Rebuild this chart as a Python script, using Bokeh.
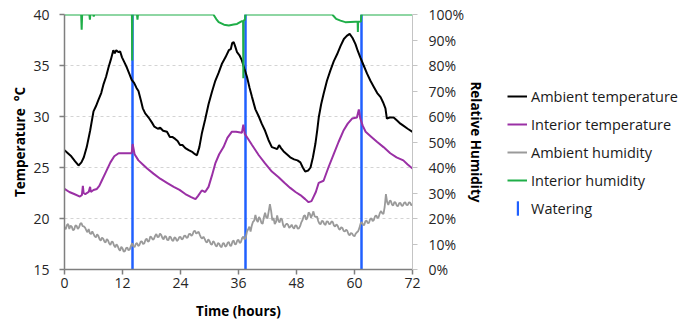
from bokeh.plotting import figure
from bokeh.models import (Range1d, LinearAxis, FixedTicker, PrintfTickFormatter,
                          Legend, LegendItem)
from bokeh.layouts import row
from bokeh.embed import file_html
from bokeh.resources import INLINE

# ---------------- data ----------------
x_ticks = [0, 12, 24, 36, 48, 60, 72]
temp_ticks = [15, 20, 25, 30, 35, 40]
hum_ticks = [0, 10, 20, 30, 40, 50, 60, 70, 80, 90, 100]

amb_temp_h = [0.0, 0.7, 1.4, 2.2, 2.9, 3.5, 4.0, 4.6, 5.3, 6.0, 6.5, 7.0, 7.6, 8.1, 8.6, 9.1,
              9.6, 10.1, 10.4, 10.7, 11.2, 11.5, 11.9, 12.4, 12.9, 13.4, 13.9, 14.4, 14.9,
              15.3, 15.8, 16.2, 16.7, 17.4, 18.1, 18.6, 19.3, 19.8, 20.4, 21.2, 21.8, 22.3,
              22.9, 23.4, 23.9, 24.4, 25.0, 25.7, 26.5, 27.0, 27.4, 27.9, 28.4, 29.1, 29.8,
              30.5, 31.2, 31.9, 32.6, 33.3, 34.0, 34.4, 34.7, 35.0, 35.3, 35.7, 36.2, 36.7,
              37.2, 37.75, 38.3, 38.8, 39.5, 40.2, 40.8, 41.5, 42.2, 42.9, 43.5, 44.0, 44.4,
              44.8, 45.3, 46.0, 46.7, 47.5, 48.2, 48.8, 49.3, 49.8, 50.4, 50.9, 51.4, 51.9,
              52.3, 52.6, 53.1, 53.6, 54.3, 55.0, 55.7, 56.4, 57.1, 57.8, 58.4, 59.0, 59.6,
              60.2, 60.7, 61.2, 61.9, 62.6, 63.3, 64.0, 64.7, 65.4, 65.9, 66.4, 66.7, 67.3,
              68.1, 68.8, 69.5, 70.1, 71.0, 72.0]
amb_temp = [26.7, 26.4, 26.1, 25.6, 25.2, 25.5, 26.0, 27.0, 28.6, 30.5, 31.0, 31.6, 32.3, 33.2,
            33.9, 34.8, 35.6, 36.5, 36.2, 36.5, 36.3, 36.4, 35.8, 35.3, 34.8, 34.2, 33.6, 33.3,
            32.8, 32.5, 31.6, 30.8, 30.3, 29.9, 29.4, 29.0, 28.8, 28.9, 28.6, 28.5, 28.0, 28.0,
            27.8, 27.6, 27.2, 27.2, 26.9, 26.7, 26.5, 26.3, 26.2, 27.0, 28.3, 29.7, 31.2, 32.4,
            33.5, 34.3, 35.2, 35.8, 36.5, 36.6, 37.2, 37.3, 36.9, 36.3, 36.0, 35.5, 34.7, 33.9,
            32.8, 31.9, 30.7, 30.0, 29.3, 28.6, 27.7, 27.0, 26.9, 26.8, 27.2, 26.9, 26.6, 26.3,
            26.0, 25.8, 25.7, 25.5, 25.0, 24.6, 24.7, 25.0, 26.0, 27.3, 28.7, 29.9, 31.2, 32.2,
            33.5, 34.5, 35.4, 36.1, 36.9, 37.6, 37.9, 38.1, 37.7, 37.1, 36.4, 35.8, 35.0, 34.2,
            33.5, 32.9, 32.3, 31.9, 31.4, 30.8, 29.8, 29.9, 29.9, 29.6, 29.3, 29.1, 28.8, 28.5]

int_temp_h = [0.0, 1.0, 2.0, 3.2, 3.6, 3.8, 3.95, 4.3, 5.0, 5.3, 5.45, 6.0, 6.7, 7.2, 7.7, 8.6,
              9.5, 10.3, 11.2, 12.5, 13.9, 14.1, 14.5, 15.3, 16.2, 17.1, 18.4, 19.8, 21.2, 22.6,
              23.8, 25.0, 26.2, 27.1, 27.6, 28.4, 29.1, 29.8, 30.5, 31.2, 32.0, 32.9, 33.7,
              34.6, 35.5, 36.7, 37.0, 37.3, 38.0, 38.8, 40.2, 41.5, 42.9, 44.3, 45.5, 46.7,
              47.8, 48.8, 49.8, 50.5, 51.1, 51.5, 52.0, 52.6, 53.6, 54.6, 55.7, 56.7, 57.7,
              58.6, 59.5, 60.5, 60.9, 61.2, 61.7, 62.3, 63.5, 64.7, 66.0, 67.4, 68.7, 70.1,
              71.0, 72.0]
int_temp = [22.9, 22.6, 22.4, 22.15, 22.3, 23.2, 22.5, 22.4, 22.6, 23.1, 22.6, 22.8, 22.9,
            23.2, 23.7, 24.6, 25.5, 26.1, 26.4, 26.4, 26.4, 27.3, 26.3, 25.7, 25.3, 24.9, 24.4,
            23.9, 23.5, 23.1, 22.8, 22.4, 22.1, 21.9, 22.2, 22.75, 22.6, 23.1, 24.2, 25.4,
            26.3, 27.0, 27.9, 28.5, 28.5, 28.4, 29.2, 28.3, 27.8, 27.2, 26.2, 25.4, 24.6, 24.05,
            23.5, 23.0, 22.6, 22.3, 21.9, 21.6, 21.7, 22.1, 22.6, 23.5, 23.7, 25.0, 26.3, 27.5,
            28.6, 29.3, 29.8, 29.9, 30.7, 29.8, 29.1, 28.5, 28.0, 27.5, 27.0, 26.4, 26.0, 25.7,
            25.3, 24.9]

# ambient humidity, readings on the half hour ...
amb_hum_h = [0.0, 0.5, 1.0, 1.5, 2.0, 2.5, 3.0, 3.5, 4.0, 4.5, 5.0, 5.5, 6.0, 6.5, 7.0, 7.5,
             8.0, 8.5, 9.0, 9.5, 10.0, 10.5, 11.0, 11.5, 12.0, 12.5, 13.0, 13.5, 14.0, 14.5,
             15.0, 15.5, 16.0, 16.5, 17.0, 17.5, 18.0, 18.5, 19.0, 19.5, 20.0, 20.5, 21.0,
             21.5, 22.0, 22.5, 23.0, 23.5, 24.0, 24.5, 25.0, 25.5, 26.0, 26.5, 27.0, 27.5,
             28.0, 28.5, 29.0, 29.5, 30.0, 30.5, 31.0, 31.5, 32.0, 32.5, 33.0, 33.5, 34.0,
             34.5, 35.0, 35.5, 36.0, 36.5, 37.0, 37.5, 38.0, 38.5, 39.0, 39.5, 40.0, 40.5,
             41.0, 41.5, 42.0, 42.5, 43.0, 43.5, 44.0, 44.5, 45.0, 45.5, 46.0, 46.5, 47.0,
             47.5, 48.0, 48.5, 49.0, 49.5, 50.0, 50.5, 51.0, 51.5, 52.0, 52.5, 53.0, 53.5,
             54.0, 54.5, 55.0, 55.5, 56.0, 56.5, 57.0, 57.5, 58.0, 58.5, 59.0, 59.5, 60.0,
             60.5, 61.0, 61.5, 62.0, 62.5, 63.0, 63.5, 64.0, 64.5, 65.0, 65.5, 66.0, 66.5,
             67.0, 67.5, 68.0, 68.5, 69.0, 69.5, 70.0, 70.5, 71.0, 71.5, 72.0]
amb_hum = [16.6, 17.4, 15.9, 16.8, 15.7, 17.1, 16.5, 18.2, 16.9, 15.4, 15.9, 13.9, 14.0, 12.6,
           13.2, 11.3, 12.1, 10.6, 11.4, 9.6, 10.8, 8.7, 9.2, 7.4, 8.3, 7.2, 8.6, 7.9, 10.3,
           8.8, 10.4, 9.6, 11.0, 10.2, 12.1, 11.2, 12.6, 12.0, 13.9, 12.8, 13.6, 11.8, 12.9,
           11.5, 12.6, 11.2, 12.3, 11.6, 12.8, 12.1, 13.3, 12.6, 14.0, 13.7, 15.2, 14.4, 13.6,
           12.1, 12.0, 10.6, 11.2, 9.7, 10.6, 9.0, 10.1, 8.7, 10.3, 9.2, 10.8, 9.3, 11.4, 10.0,
           11.6, 10.8, 12.9, 12.4, 15.8, 14.9, 18.7, 21.4, 18.6, 19.8, 17.9, 22.3, 20.1, 25.6,
           19.3, 17.8, 21.2, 18.4, 19.6, 16.5, 18.0, 16.3, 17.6, 16.0, 17.2, 16.1, 18.5, 21.0,
           19.5, 22.4, 20.3, 22.8, 20.6, 19.0, 17.8, 18.9, 17.5, 18.8, 17.9, 18.6, 16.8, 17.2,
           15.6, 16.3, 14.9, 15.2, 13.4, 14.1, 13.0, 14.6, 16.2, 18.6, 17.4, 19.2, 18.3, 20.1,
           19.4, 21.2, 20.6, 22.9, 21.8, 29.6, 25.3, 27.0, 25.1, 26.3, 24.8, 26.1, 25.0, 26.4,
           25.2, 26.2, 25.6]
# ... and the jitter read between them, at the quarter hours
amb_hum_q = [15.8, 17.9, 17.2, 15.4, 17.3, 15.9, 17.9, 17.0, 16.4, 14.6, 14.2, 14.9, 13.0, 13.8,
             11.9, 12.5, 11.0, 11.9, 10.2, 10.9, 9.4, 9.9, 8.0, 8.9, 7.0, 8.4, 7.5, 9.3, 9.1,
             10.0, 9.2, 10.9, 10.0, 11.6, 10.9, 12.9, 11.7, 13.2, 12.7, 14.1, 12.4, 13.1, 11.6,
             12.9, 11.5, 12.6, 11.2, 12.7, 11.8, 13.2, 12.4, 13.9, 13.2, 15.0, 14.1, 14.8, 12.5,
             12.9, 10.9, 11.8, 10.0, 11.1, 9.4, 10.4, 9.1, 10.2, 9.0, 10.5, 9.4, 10.9, 9.9, 11.4,
             10.4, 12.3, 11.8, 14.9, 16.8, 17.2, 19.2, 19.4, 20.6, 18.2, 20.5, 20.4, 22.8, 23.0,
             20.2, 18.6, 19.1, 20.1, 17.3, 17.6, 17.5, 16.8, 16.5, 17.3, 16.0, 17.0, 19.4, 21.3,
             20.2, 21.9, 21.4, 20.9, 20.8, 18.0, 19.1, 17.8, 18.9, 17.8, 18.9, 17.2, 17.7, 16.0,
             16.6, 15.1, 15.6, 13.9, 14.3, 13.3, 14.1, 15.0, 17.9, 17.6, 18.9, 18.2, 19.8, 19.0,
             20.9, 20.2, 22.2, 22.0, 24.6, 26.4, 26.8, 25.5, 26.4, 25.0, 26.0, 25.1, 26.1, 25.3,
             26.3, 25.2]

int_hum_h = [0.0, 3.45, 3.55, 3.65, 5.15, 5.25, 5.35, 5.95, 6.05, 6.15, 13.95, 14.0, 14.05,
             15.0, 15.1, 15.2, 30.8, 31.4, 31.9, 33.0, 34.0, 35.0, 35.7, 36.7, 36.95, 37.0,
             37.05, 37.35, 37.4, 55.4, 56.2, 57.1, 58.1, 60.2, 60.65, 60.7, 60.75, 61.35, 61.4,
             72.0]
int_hum = [100, 100, 94, 100, 100, 98, 100, 100, 99.2, 100, 100, 82, 100,
           100, 98, 100, 100, 98.2, 97.0, 96.0, 95.7, 96.1, 96.3, 97.4, 97.4, 75,
           97.6, 98, 100, 100, 98.3, 97.6, 97.0, 97.2, 97.2, 93.1, 97.2, 97.3, 100,
           100]

watering_h = [14.05, 37.4, 61.4]

series_labels = ["Ambient temperature", "Interior temperature", "Ambient humidity",
                 "Interior humidity", "Watering"]

# merge the half-hour and quarter-hour humidity readings into one time-ordered series
amb_hum_q_h = [h + 0.25 for h in amb_hum_h[:-1]]
_pairs = sorted(zip(amb_hum_h + amb_hum_q_h, amb_hum + amb_hum_q))
amb_hum_all_h = [a for a, _ in _pairs]
amb_hum_all = [b for _, b in _pairs]

# ---------------- styles ----------------
FONT = "Open Sans"
C_AMB_T, C_INT_T, C_AMB_H, C_INT_H, C_WATER = "#000000", "#9a30a5", "#9a9a9a", "#1fae48", "#2060ff"

# ---------------- main chart ----------------
p = figure(width=495, height=326, x_range=Range1d(0, 72), y_range=Range1d(15, 40),
           output_backend="svg", toolbar_location=None,
           min_border_left=64, min_border_right=83, min_border_top=14, min_border_bottom=57)
p.extra_y_ranges = {"hum": Range1d(0, 100)}
p.outline_line_color = None

p.vspan(x=watering_h, line_color=C_WATER, line_width=2.5)
p.line(amb_hum_all_h, amb_hum_all, y_range_name="hum", line_color=C_AMB_H, line_width=1.8)
p.line(int_temp_h, int_temp, line_color=C_INT_T, line_width=2)
p.line(amb_temp_h, amb_temp, line_color=C_AMB_T, line_width=2)
p.line(int_hum_h, int_hum, y_range_name="hum", line_color=C_INT_H, line_width=2)

xa = p.xaxis[0]
xa.ticker = FixedTicker(ticks=x_ticks)
xa.axis_label = "Time (hours)"
ya = p.yaxis[0]
ya.ticker = FixedTicker(ticks=temp_ticks)
ya.axis_label = "Temperature \u00a0\u00b0C"

ra = LinearAxis(y_range_name="hum", ticker=FixedTicker(ticks=hum_ticks),
                formatter=PrintfTickFormatter(format="%d%%"), axis_label="Relative Humidity")
p.add_layout(ra, "right")

for ax in (xa, ya, ra):
    ax.major_label_text_font = FONT
    ax.major_label_text_font_size = "14px"
    ax.major_label_text_color = "#262626"
    ax.axis_label_text_font = FONT
    ax.axis_label_text_font_size = "13.5px"
    ax.axis_label_text_font_style = "bold"
    ax.axis_label_text_color = "#000000"
    ax.minor_tick_line_color = None
    ax.major_tick_in = 0
    ax.major_tick_out = 5
    ax.axis_line_width = 1.5
    ax.major_tick_line_width = 1.5

for ax in (xa, ya):
    ax.axis_line_color = "#7f7f7f"
    ax.major_tick_line_color = "#7f7f7f"
ra.axis_line_color = "#c4c4c4"
ra.major_tick_line_color = "#c4c4c4"
ra.axis_line_width = 1
ra.major_tick_line_width = 1

xa.major_label_standoff = 3
xa.axis_label_standoff = 11
ya.major_label_standoff = 10
ya.axis_label_standoff = 1
ra.major_label_standoff = 11
ra.axis_label_standoff = 0

p.xgrid.visible = False
p.ygrid.ticker = FixedTicker(ticks=temp_ticks)
p.ygrid.grid_line_color = "#d4d4d4"
p.ygrid.grid_line_dash = "3 3"
p.ygrid.grid_line_width = 1

# ---------------- legend panel (separate figure to the right) ----------------
q = figure(width=200, height=326, x_range=Range1d(0, 1), y_range=Range1d(0, 1),
           output_backend="svg", toolbar_location=None, x_axis_type=None, y_axis_type=None,
           min_border_left=0, min_border_right=0, min_border_top=0, min_border_bottom=0)
q.outline_line_color = None
q.xgrid.visible = False
q.ygrid.visible = False
nan = float("nan")
k1 = q.line(x=[nan], y=[nan], line_color=C_AMB_T, line_width=2)
k2 = q.line(x=[nan], y=[nan], line_color=C_INT_T, line_width=2)
k3 = q.line(x=[nan], y=[nan], line_color=C_AMB_H, line_width=2)
k4 = q.line(x=[nan], y=[nan], line_color=C_INT_H, line_width=2)
k5 = q.vbar(x=[nan], top=[nan], width=0.01, fill_color=C_WATER, line_color=None)

common = dict(padding=0, margin=0, spacing=8, label_height=20,
              border_line_color=None, background_fill_alpha=0,
              label_text_font=FONT, label_text_font_size="14.5px", label_text_color="#1a1a1a")
leg1 = Legend(items=[LegendItem(label=series_labels[0], renderers=[k1]),
                     LegendItem(label=series_labels[1], renderers=[k2]),
                     LegendItem(label=series_labels[2], renderers=[k3]),
                     LegendItem(label=series_labels[3], renderers=[k4])],
              location=(12, 79), glyph_width=20, glyph_height=20, label_standoff=4, **common)
leg2 = Legend(items=[LegendItem(label=series_labels[4], renderers=[k5])],
              location=(21, 51), glyph_width=3, glyph_height=18, label_standoff=12, **common)
q.add_layout(leg1, "center")
q.add_layout(leg2, "center")

layout = row(p, q)
open("out.html", "w").write(file_html(layout, INLINE))
